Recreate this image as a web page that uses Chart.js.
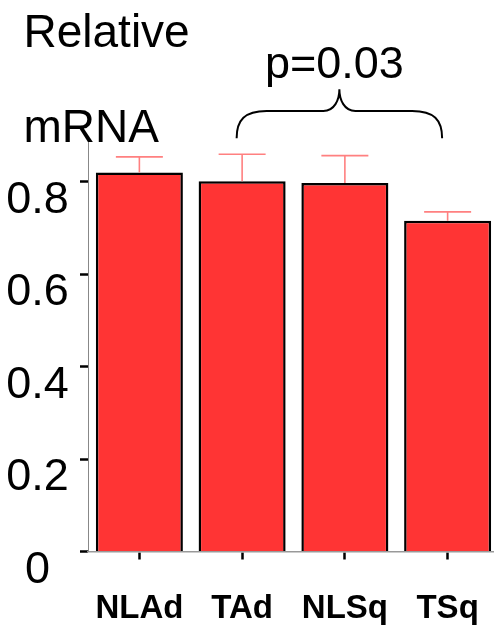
<!DOCTYPE html>
<html><head><meta charset="utf-8">
<script src="https://cdn.jsdelivr.net/npm/chart.js@4.4.1/dist/chart.umd.min.js"></script>
<style>html,body{margin:0;padding:0;overflow:hidden;background:#fff}#wrap{width:500px;height:625px;position:relative}</style>
</head><body><div id="wrap"><canvas id="c"></canvas></div>
<script>
const categories = ['NLAd', 'TAd', 'NLSq', 'TSq'];
const meanValues = [0.8195, 0.8009, 0.7972, 0.7156];
const errorValues = [0.0339, 0.0584, 0.0591, 0.0189];
const yTickValues = [0, 0.2, 0.4, 0.6, 0.8];
const yTitleLines = ['Relative', 'mRNA'];
const pLabel = 'p=0.03';
const FONT = "'Liberation Sans', Arial, Helvetica, sans-serif";

const errorBarPlugin = {
  id: 'errorBars',
  afterDatasetsDraw(chart) {
    const meta = chart.getDatasetMeta(0);
    const y = chart.scales.y;
    const ctx = chart.ctx;
    ctx.save();
    ctx.strokeStyle = '#ff8080';
    ctx.lineWidth = 1.6;
    meta.data.forEach((bar, i) => {
      const top = y.getPixelForValue(meanValues[i] + errorValues[i]);
      const base = y.getPixelForValue(meanValues[i]);
      const half = bar.width * 0.27;
      ctx.beginPath();
      ctx.moveTo(bar.x, base);
      ctx.lineTo(bar.x, top);
      ctx.moveTo(bar.x - half, top);
      ctx.lineTo(bar.x + half, top);
      ctx.stroke();
    });
    ctx.restore();
  }
};

const annotationPlugin = {
  id: 'annotations',
  afterDraw(chart) {
    const x = chart.scales.x, y = chart.scales.y, ctx = chart.ctx;
    ctx.save();
    ctx.fillStyle = '#000';
    ctx.font = '46px ' + FONT;
    ctx.textAlign = 'left';
    ctx.textBaseline = 'alphabetic';
    ctx.fillText(yTitleLines[0], 23.5, y.top - 93.3);
    ctx.fillText(yTitleLines[1], 23.5, y.top + 1.7);
    const x1 = x.getPixelForValue(1) - 5.5, x2 = x.getPixelForValue(3) - 5.5;
    const xm = (x1 + x2) / 2;
    const yEnd = y.top - 1.7, yMid = y.top - 29, yTip = y.top - 50.7;
    ctx.strokeStyle = '#000';
    ctx.lineWidth = 2;
    ctx.beginPath();
    ctx.moveTo(x1, yEnd);
    ctx.bezierCurveTo(x1, yMid + 9, x1 + 8, yMid, x1 + 30, yMid);
    ctx.lineTo(xm - 16, yMid);
    ctx.bezierCurveTo(xm - 5, yMid, xm, yMid - 11, xm, yTip);
    ctx.bezierCurveTo(xm, yMid - 11, xm + 5, yMid, xm + 16, yMid);
    ctx.lineTo(x2 - 30, yMid);
    ctx.bezierCurveTo(x2 - 8, yMid, x2, yMid + 9, x2, yEnd);
    ctx.stroke();
    ctx.font = '45px ' + FONT;
    ctx.textAlign = 'center';
    ctx.fillText(pLabel, xm - 5, y.top - 62.3);
    ctx.restore();
  }
};

new Chart(document.getElementById('c'), {
  type: 'bar',
  data: {
    labels: categories,
    datasets: [{
      data: meanValues,
      backgroundColor: '#ff3434',
      borderColor: '#000',
      borderWidth: 2.5,
      barPercentage: 0.847,
      categoryPercentage: 1.0
    }]
  },
  options: {
    responsive: true,
    maintainAspectRatio: false,
    animation: false,
    devicePixelRatio: 1,
    layout: { padding: { left: 0, right: 1, top: 140, bottom: 0 } },
    plugins: {
      legend: { display: false },
      tooltip: { enabled: false },
      title: { display: false }
    },
    scales: {
      x: {
        offset: true,
        grid: { display: true, offset: false, drawOnChartArea: false, drawTicks: true, tickLength: 8, tickWidth: 2.5, tickColor: '#000' },
        border: { display: true, color: '#999', width: 1.5 },
        ticks: { color: '#000', font: { family: FONT, size: 33, weight: 'bold', lineHeight: '98px' }, padding: 0, maxRotation: 0, autoSkip: false },
        afterFit(s) { s.height = 73.5; }
      },
      y: {
        min: 0, max: 0.89,
        afterBuildTicks(s) { s.ticks = yTickValues.map(v => ({ value: v })); },
        grid: { display: true, drawOnChartArea: false, drawTicks: true, tickLength: 8, tickWidth: 2.5, tickColor: '#000' },
        border: { display: true, color: '#888', width: 1 },
        ticks: {
          color: '#000', font: { family: FONT, size: 45 }, crossAlign: 'center', padding: 11.2, labelOffset: 19,
          callback: v => (v === 0 ? '0' : v.toFixed(1))
        },
        afterFit(s) { s.width = 88; }
      }
    }
  },
  plugins: [errorBarPlugin, annotationPlugin]
});
</script>
</body></html>
